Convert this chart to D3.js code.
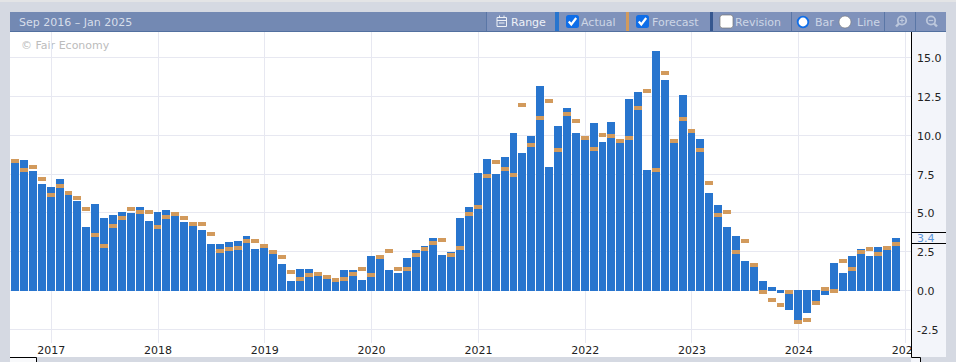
<!DOCTYPE html>
<html><head><meta charset="utf-8">
<style>html,body{margin:0;padding:0;background:#d5d9e2;overflow:hidden}svg{display:block}text{font-family:"DejaVu Sans",sans-serif;font-size:11px}</style>
<script src="https://cdn.jsdelivr.net/npm/d3@7/dist/d3.min.js"></script></head><body>
<script>
const months = d3.utcMonth.range(new Date(Date.UTC(2016,8,1)), new Date(Date.UTC(2025,0,1)));
const actual = [8.34,8.45,7.74,6.9,6.71,7.23,6.26,5.81,4.13,5.61,4.71,4.9,5.1,5.03,5.42,4.52,5.1,5.23,4.9,4.45,4.26,3.94,3.03,3.03,3.16,3.23,
3.55,2.71,2.77,2.43,1.74,0.65,1.42,1.42,0.97,0.77,0.58,1.35,1.35,0.71,2.26,2.13,1.35,1.16,2.13,2.65,2.9,3.42,2.32,2.52,
4.71,5.42,7.61,8.52,7.55,8.65,10.19,8.9,10.0,13.23,8.0,10.65,11.81,10.19,9.74,10.84,9.61,10.9,9.55,12.39,12.84,7.81,15.48,13.61,9.55,12.65,10.19,9.81,
6.32,5.55,4.13,3.55,1.94,1.55,0.65,0.26,-0.13,-1.23,-1.94,-1.42,-0.8,-0.26,1.81,1.16,2.26,2.71,2.26,2.84,2.65,3.42];
const forecast = [8.39,7.81,8.0,7.23,6.19,6.77,6.32,6.0,5.29,3.61,2.9,4.19,4.71,5.29,5.1,5.1,4.13,4.77,4.97,4.71,4.32,4.32,3.68,2.58,2.71,2.77,
3.23,3.23,2.9,2.52,2.19,1.23,0.77,1.03,1.1,0.9,0.71,0.77,1.1,1.42,1.03,2.19,2.58,1.42,1.42,2.32,2.71,3.1,3.29,2.32,
2.77,4.97,5.42,7.42,8.32,7.87,7.48,12.0,9.42,11.18,12.26,9.1,11.42,10.97,9.87,9.16,10.06,10.0,9.68,9.87,11.81,12.9,7.81,14.06,9.68,11.1,10.32,9.1,
6.97,4.9,5.1,2.52,3.23,1.68,-0.06,-0.58,-0.9,-0.06,-2.0,-1.87,-0.77,0.13,0.0,1.94,1.42,2.52,2.71,2.39,2.77,3.03];
const yTicks = [-2.5,0,2.5,5,7.5,10,12.5,15];
const yearTicks = [2017,2018,2019,2020,2021,2022,2023,2024,2025];
const latest = 3.4;
const headerTitle = "Sep 2016 – Jan 2025";

const svg = d3.select("body").append("svg").attr("width",956).attr("height",362);
const x = d3.scaleUtc().domain([new Date(Date.UTC(2017,0,1)),new Date(Date.UTC(2025,0,1))]).range([51.3,905.7]);
const y = d3.scaleLinear().domain([-2.5,15]).range([329.6,58.4]);
const C={bg:"#d5d9e2",head:"#7389b3",headL:"#7f92bb",bar:"#2875ce",fc:"#d29a5c",grid:"#e7e8f1",panel:"#f3f5fa",txt:"#222"};

svg.append("rect").attr("width",956).attr("height",2).attr("fill","#e3e4e6");
svg.append("rect").attr("x",10).attr("y",31).attr("width",901).attr("height",326).attr("fill","#fff");
svg.append("rect").attr("x",10).attr("y",357).attr("width",26).attr("height",5).attr("fill","#f8f9fb");
svg.append("path").attr("d","M10 357.5H36.5V362").attr("fill","none").attr("stroke","#000");

svg.append("text").attr("x",21).attr("y",49).attr("fill","#bcbcbc").text("© Fair Economy");

const grid = svg.append("g").attr("shape-rendering","crispEdges").attr("stroke",C.grid);
grid.selectAll(".h").data(yTicks).join("line").attr("x1",10).attr("x2",911)
  .attr("y1",d=>Math.round(y(d))-.5).attr("y2",d=>Math.round(y(d))-.5);
grid.selectAll(".v").data(yearTicks).join("line")
  .attr("x1",d=>Math.floor(x(new Date(Date.UTC(d,0,1))))+.5).attr("x2",d=>Math.floor(x(new Date(Date.UTC(d,0,1))))+.5)
  .attr("y1",32).attr("y2",343);

const ix = d3.scaleLinear().domain([0,96]).range([15.6,15.6+8.9*96]);
const left = i => Math.floor(ix(i)-4);
const bw = i => Math.min(8, left(i+1)-left(i)-1);
const marks = svg.append("g").attr("shape-rendering","crispEdges");
marks.selectAll(".a").data(actual).join("rect")
  .attr("x",(d,i)=>left(i)).attr("width",(d,i)=>bw(i))
  .attr("y",d=>d>=0?Math.round(y(d)):Math.round(y(0))-1)
  .attr("height",d=>Math.max(1,Math.abs(Math.round(y(d))-Math.round(y(0)))+(d<0?1:0)))
  .attr("fill",C.bar);
marks.selectAll(".f").data(forecast).join("rect")
  .attr("x",(d,i)=>left(i)).attr("width",(d,i)=>bw(i))
  .attr("y",d=>Math.round(y(d))-2).attr("height",4).attr("fill",C.fc);

svg.selectAll(".yl").data(yearTicks).join("text").attr("text-anchor","middle")
  .attr("x",d=>x(new Date(Date.UTC(d,0,1)))).attr("y",354).attr("fill",C.txt).text(d=>d);

svg.append("rect").attr("x",911).attr("y",31).attr("width",35).attr("height",326).attr("fill",C.panel);
svg.append("rect").attr("x",911).attr("y",357).attr("width",9).attr("height",5).attr("fill",C.panel);
svg.append("path").attr("d","M911.5 31V357.5H920.5V362").attr("fill","none").attr("stroke","#000");
svg.selectAll(".yt").data(yTicks).join("text").attr("x",917).attr("y",d=>y(d)+4).attr("fill",C.txt).text(d=>d.toFixed(1));
svg.append("rect").attr("x",912).attr("y",232).attr("width",34).attr("height",11).attr("fill",C.panel);
svg.append("path").attr("d","M912 232.5H946M912 243.5H946").attr("stroke","#000");
svg.append("text").attr("x",917).attr("y",242).attr("fill","#5a94d9").text(latest.toFixed(1));

const h=svg.append("g");
h.append("rect").attr("x",10).attr("y",12).attr("width",936).attr("height",19).attr("fill",C.head);
h.append("rect").attr("x",487).attr("y",12).attr("width",459).attr("height",19).attr("fill",C.headL);
h.append("rect").attr("x",10).attr("y",31).attr("width",936).attr("height",1).attr("fill","#52709f");
h.append("text").attr("x",19).attr("y",26).attr("fill","#d7deea").text(headerTitle);
const stripes=[[555,4,C.bar],[626,3,C.fc],[710,3,"#36578f"],[486,1,"#5a76a6"],[791,1,"#5a76a6"],[884,1,"#5a76a6"],[915,1,"#5a76a6"]];
h.selectAll(".s").data(stripes).join("rect").attr("x",d=>d[0]).attr("y",12).attr("width",d=>d[1]).attr("height",19).attr("fill",d=>d[2]);
const labels=[[511,"Range","#eef1f7"],[581,"Actual","#cdd6e6"],[652,"Forecast","#cdd6e6"],[735,"Revision","#cdd6e6"],[815,"Bar","#cdd6e6"],[857,"Line","#cdd6e6"]];
h.selectAll(".l").data(labels).join("text").attr("x",d=>d[0]).attr("y",26).attr("fill",d=>d[2]).text(d=>d[1]);
[[566,true],[636,true],[720,false]].forEach(([cx,on])=>{
  h.append("rect").attr("x",cx).attr("y",15).attr("width",13).attr("height",13).attr("rx",2.5).attr("fill",on?"#0f6ee8":"#fff").attr("stroke",on?"none":"#777").attr("stroke-width",.7);
  if(on) h.append("path").attr("d",`M${cx+2.8} 21.5L${cx+5.3} 24.5L${cx+10.2} 18`).attr("fill","none").attr("stroke","#fff").attr("stroke-width",2.2);
});
h.append("circle").attr("cx",803).attr("cy",22).attr("r",5.3).attr("fill","#fff").attr("stroke","#0f6ee8").attr("stroke-width",1.8);
h.append("circle").attr("cx",845).attr("cy",22).attr("r",6).attr("fill","#fff").attr("stroke","#777").attr("stroke-width",.6);
h.append("path").attr("d","M497 17.5H506.5V26.5H497ZM497 20.5H506.5M499.5 15.5V18M504 15.5V18M499 23H504.5").attr("fill","none").attr("stroke","#eef1f7").attr("stroke-width",1);
[[902,true],[931,false]].forEach(([cx,plus])=>{
  const ic=h.append("g").attr("fill","none").attr("stroke","#bcc7dc").attr("stroke-width",1.8);
  ic.append("circle").attr("cx",cx).attr("cy",20.5).attr("r",4.2);
  ic.append("path").attr("d",plus?`M${cx-3} 23.5L${cx-6} 26.5`:`M${cx+3} 23.5L${cx+6} 26.5`).attr("stroke-width",2.4);
  ic.append("path").attr("d",plus?`M${cx-2.2} 20.5H${cx+2.2}M${cx} 18.3V22.7`:`M${cx-2.2} 20.5H${cx+2.2}`).attr("stroke-width",1.2);
});
</script></body></html>
